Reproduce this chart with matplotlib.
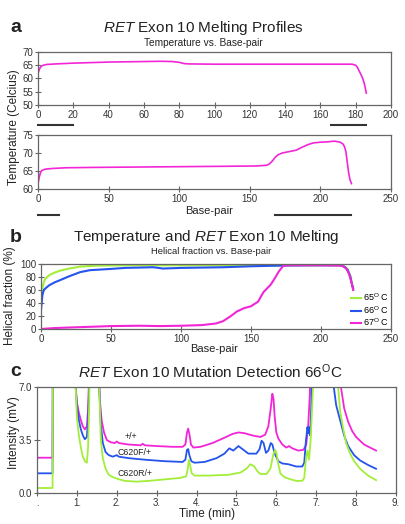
import matplotlib
matplotlib.use('Agg')
import matplotlib.pyplot as plt
import matplotlib.transforms as mtransforms

plt.rcParams['font.family'] = ['Liberation Sans', 'DejaVu Sans']
plt.rcParams['mathtext.fontset'] = 'custom'
plt.rcParams['mathtext.rm'] = 'Liberation Sans'
plt.rcParams['mathtext.it'] = 'Liberation Sans:italic'

# ---- panel a: melting profiles (temperature vs base-pair)
a1_bp = [0, 1, 2, 3, 5, 10, 20, 30, 40, 50, 60, 70, 76, 80, 83, 86, 100, 120, 140, 160,
         175, 178, 180, 181, 182, 183, 184, 185, 186]
a1_temp = [62.0, 63.8, 64.7, 65.0, 65.3, 65.5, 65.8, 66.0, 66.2, 66.3, 66.4, 66.5, 66.4, 66.1,
           65.6, 65.5, 65.4, 65.4, 65.4, 65.4, 65.4, 65.4, 65.0, 64.2, 62.8, 61.5, 60.0, 57.8, 54.5]
a1_bars = [(0, 20), (166, 186)]

a2_bp = [0, 1, 2, 3, 5, 10, 20, 40, 70, 100, 130, 155, 162, 164, 166, 168, 170, 173, 178,
         183, 187, 191, 195, 200, 205, 210, 214, 216, 217, 218, 219, 220, 221, 222]
a2_temp = [61.5, 63.5, 64.8, 65.2, 65.5, 65.7, 65.9, 66.0, 66.1, 66.2, 66.3, 66.4, 66.6, 67.0,
           67.8, 68.8, 69.5, 70.0, 70.4, 70.8, 71.6, 72.3, 72.8, 73.0, 73.1, 73.3, 73.0, 72.5,
           71.8, 70.5, 67.5, 64.5, 62.5, 61.5]
a2_bars = [(0, 15), (168, 222)]

# ---- panel b: helical fraction vs base-pair
b65_bp = [0, 1, 2, 3, 6, 10, 14, 20, 28, 40, 60, 100, 150, 200, 214, 217, 219, 221, 222, 223]
b65_h = [40, 62, 72, 77, 83, 87, 90, 93, 96, 97.5, 98, 98, 98, 98, 98, 96, 92, 82, 70, 60]
b66_bp = [0, 1, 2, 4, 6, 10, 14, 20, 28, 35, 49, 60, 80, 84, 87, 100, 130, 150, 170, 190,
          214, 217, 219, 221, 222, 223]
b66_h = [29, 52, 60, 64, 67.5, 72, 75.5, 81, 87.5, 90.5, 92.3, 94, 95, 94, 93, 94, 95, 96.5,
         97.5, 98, 98, 95.5, 91, 80, 70, 62]
b67_bp = [0, 10, 30, 50, 70, 85, 100, 115, 125, 130, 135, 140, 145, 150, 155, 159, 164, 167,
          170, 173, 176, 200, 215, 218, 220, 222, 223]
b67_h = [0, 1.5, 3, 4.5, 5, 4.5, 5, 6, 8.5, 12, 19, 27, 32, 35, 42, 57, 68, 78, 89, 97, 98,
         98, 97.5, 93, 85, 70, 60]
b_labels = [r'65$^{\mathrm{O}}$ C', r'66$^{\mathrm{O}}$ C', r'67$^{\mathrm{O}}$ C']

# ---- panel c: chromatograms at 66 C (values above 7 run off the top)
wt_t = [0, 0.39, 0.40, 0.93, 0.97, 1.0, 1.05, 1.1, 1.15, 1.2, 1.25, 1.28, 1.31, 1.32, 1.5,
        1.55, 1.58, 1.62, 1.68, 1.75, 1.85, 1.95, 2.0, 2.05, 2.3, 2.6, 2.65, 2.7, 3.0, 3.4,
        3.65, 3.72, 3.76, 3.79, 3.82, 3.86, 3.92, 4.1, 4.4, 4.7, 4.9, 5.05, 5.2, 5.4, 5.6,
        5.72, 5.8, 5.86, 5.9, 5.93, 5.96, 6.0, 6.05, 6.15, 6.25, 6.32, 6.4, 6.55, 6.68, 6.75,
        6.8, 6.84, 6.87, 7.55, 7.62, 7.7, 7.8, 7.9, 8.0, 8.2, 8.35, 8.5]
wt_mv = [2.33, 2.33, 12, 12, 7.0, 6.0, 5.3, 4.8, 4.4, 4.2, 4.4, 5.5, 8, 12, 12,
         8, 6.0, 4.8, 4.0, 3.5, 3.35, 3.3, 3.4, 3.3, 3.2, 3.15, 3.25, 3.15, 3.1, 3.05,
         3.05, 3.2, 4.0, 4.25, 3.9, 3.2, 3.0, 3.05, 3.3, 3.65, 3.9, 4.0, 3.95, 3.8, 3.7,
         3.85, 4.4, 5.6, 6.55, 6.2, 5.0, 4.0, 3.6, 3.2, 3.0, 3.1, 2.95, 2.8, 2.85, 3.2,
         4.5, 6.5, 12, 12, 7.0, 5.6, 4.7, 4.1, 3.7, 3.2, 3.0, 2.8]

f_t = [0, 0.39, 0.40, 0.93, 0.97, 1.0, 1.05, 1.1, 1.15, 1.2, 1.25, 1.28, 1.31, 1.32, 1.52,
       1.56, 1.6, 1.65, 1.72, 1.8, 1.9, 2.0, 2.05, 2.3, 2.7, 3.2, 3.65, 3.72, 3.76, 3.79, 3.82,
       3.87, 3.95, 4.2, 4.5, 4.7, 4.82, 4.92, 5.05, 5.15, 5.3, 5.5, 5.58, 5.63, 5.68, 5.74,
       5.8, 5.86, 5.9, 5.96, 6.05, 6.15, 6.3, 6.5, 6.65, 6.7, 6.74, 6.78, 6.8, 6.82, 6.85,
       6.88, 6.92, 7.4, 7.44, 7.5, 7.6, 7.7, 7.8, 7.95, 8.1, 8.3, 8.5]
f_mv = [1.3, 1.3, 12, 12, 7.0, 5.8, 4.8, 4.2, 3.8, 3.55, 3.7, 4.8, 7, 12, 12,
        7.0, 4.5, 3.3, 2.7, 2.5, 2.4, 2.5, 2.4, 2.3, 2.2, 2.1, 2.05, 2.2, 2.85, 2.9, 2.5,
        2.1, 2.0, 2.05, 2.3, 2.6, 2.95, 2.8, 3.1, 2.9, 2.6, 2.6, 2.9, 3.45, 3.3, 2.65,
        2.8, 3.3, 3.2, 2.6, 2.1, 1.95, 1.9, 1.75, 1.75, 2.0, 3.4, 4.35, 3.95, 4.35, 3.8,
        6.0, 12, 12, 7.0, 5.8, 4.8, 3.8, 3.1, 2.5, 2.15, 1.85, 1.6]

r_t = [0, 0.39, 0.40, 0.93, 0.97, 1.0, 1.05, 1.1, 1.15, 1.2, 1.25, 1.28, 1.31, 1.32, 1.52,
       1.56, 1.6, 1.65, 1.72, 1.8, 1.9, 2.0, 2.2, 2.5, 2.8, 3.2, 3.6, 3.74, 3.78, 3.81, 3.84,
       3.88, 3.95, 4.3, 4.8, 5.1, 5.25, 5.35, 5.45, 5.52, 5.6, 5.75, 5.85, 5.92, 5.97, 6.0,
       6.05, 6.1, 6.2, 6.3, 6.5, 6.65, 6.7, 6.74, 6.78, 6.82, 6.86, 6.92, 6.95, 7.5, 7.55,
       7.6, 7.68, 7.75, 7.85, 7.95, 8.1, 8.3, 8.5]
r_mv = [0.33, 0.33, 12, 12, 7, 5.0, 3.8, 3.0, 2.4, 2.1, 2.0, 3.0, 6, 12, 12,
        7, 3.5, 2.3, 1.6, 1.2, 1.05, 0.95, 0.8, 0.75, 0.8, 0.9, 1.0, 1.1, 1.6, 2.2, 1.8,
        1.3, 1.15, 1.15, 1.2, 1.35, 1.6, 1.9, 1.75, 1.45, 1.25, 1.25, 1.6, 2.5, 2.85, 2.7,
        1.9, 1.3, 1.05, 0.95, 0.8, 0.8, 1.0, 2.2, 2.8, 2.2, 3.5, 7, 12, 12, 7.0,
        5.4, 4.2, 3.3, 2.6, 2.1, 1.6, 1.15, 0.85]
c_names = ['+/+', 'C620F/+', 'C620R/+']

magenta = '#f226d6'
blue = '#2453ee'
green = '#a2ee3a'
spine_col = '#666666'
tick_col = '#333333'

fig = plt.figure(figsize=(4.05, 5.24), dpi=100)
W, H = 405.0, 524.0


def box(left, top, right, bottom):
    return [left / W, 1 - bottom / H, (right - left) / W, (bottom - top) / H]


def style(ax):
    for s in ax.spines.values():
        s.set_color(spine_col)
        s.set_linewidth(0.9)
    ax.tick_params(direction='inout', length=4, width=0.8, color=spine_col,
                   labelsize=7, labelcolor=tick_col, pad=1.5)


ax1 = fig.add_axes(box(38, 52, 391, 105))
ax1.plot(a1_bp, a1_temp, color=magenta, lw=1.2)
ax1.set_xlim(0, 200)
ax1.set_ylim(50, 70)
ax1.set_xticks(range(0, 201, 20))
ax1.set_yticks(range(50, 71, 5))
style(ax1)
tr = mtransforms.blended_transform_factory(ax1.transData, ax1.transAxes)
for x0, x1 in a1_bars:
    ax1.plot([x0, x1], [-0.38, -0.38], color='#333333', lw=1.5, transform=tr, clip_on=False)

ax2 = fig.add_axes(box(38, 135, 391, 189))
ax2.plot(a2_bp, a2_temp, color=magenta, lw=1.2)
ax2.set_xlim(0, 250)
ax2.set_ylim(60, 75)
ax2.set_xticks(range(0, 251, 50))
ax2.set_yticks(range(60, 76, 5))
style(ax2)
tr = mtransforms.blended_transform_factory(ax2.transData, ax2.transAxes)
for x0, x1 in a2_bars:
    ax2.plot([x0, x1], [-0.48, -0.48], color='#333333', lw=1.5, transform=tr, clip_on=False)

ax3 = fig.add_axes(box(41, 264, 391, 329))
h1, = ax3.plot(b65_bp, b65_h, color=green, lw=1.5)
h2, = ax3.plot(b66_bp, b66_h, color=blue, lw=1.5)
h3, = ax3.plot(b67_bp, b67_h, color=magenta, lw=1.5)
ax3.set_xlim(0, 250)
ax3.set_ylim(0, 100)
ax3.set_xticks(range(0, 251, 50))
ax3.set_yticks(range(0, 101, 20))
style(ax3)
ax3.legend([h1, h2, h3], b_labels, loc='lower right', bbox_to_anchor=(1.0, -0.02),
           frameon=False, fontsize=6.5, handlelength=1.2, handletextpad=0.2,
           labelspacing=0.12, borderpad=0.1, borderaxespad=0.1)

ax4 = fig.add_axes(box(37, 387, 396, 493))
ax4.plot(wt_t, wt_mv, color=magenta, lw=1.3)
ax4.plot(f_t, f_mv, color=blue, lw=1.3)
ax4.plot(r_t, r_mv, color=green, lw=1.3)
ax4.set_xlim(0, 9)
ax4.set_ylim(0, 7)
ax4.set_xticks(range(0, 10))
ax4.set_xticklabels(['.'] + ['%d.' % i for i in range(1, 10)])
ax4.set_yticks([0, 3.5, 7.0])
ax4.set_yticklabels(['0.0', '3.5', '7.0'])
style(ax4)
ax4.text(2.35, 3.75, c_names[0], fontsize=6.3, ha='center', va='center', color='#222222')
ax4.text(2.45, 2.7, c_names[1], fontsize=6.3, ha='center', va='center', color='#222222')
ax4.text(2.45, 1.3, c_names[2], fontsize=6.3, ha='center', va='center', color='#222222')

txt = '#222222'


def ft(x, y, s, **kw):
    fig.text(x / W, 1 - y / H, s, ha='center', va='center', color=txt, **kw)


ft(16, 28, 'a', fontsize=14, fontweight='bold')
ft(203, 28, r'$\mathit{RET}$ Exon 10 Melting Profiles', fontsize=11)
ft(203, 42.5, 'Temperature vs. Base-pair', fontsize=7.3)
ft(14, 127, 'Temperature (Celcius)', fontsize=8.5, rotation=90)
ft(209, 211.5, 'Base-pair', fontsize=8)

ft(16, 237, 'b', fontsize=14, fontweight='bold')
ft(206, 237, r'Temperature and $\mathit{RET}$ Exon 10 Melting', fontsize=11)
ft(211, 251.5, 'Helical fraction vs. Base-pair', fontsize=6.8)
ft(10, 296, 'Helical fraction (%)', fontsize=8.5, rotation=90)
ft(214, 349, 'Base-pair', fontsize=8)

ft(16, 372, 'c', fontsize=14, fontweight='bold')
ft(210, 372, r'$\mathit{RET}$ Exon 10 Mutation Detection 66$^{\mathrm{O}}$C', fontsize=11)
ft(14, 433, 'Intensity (mV)', fontsize=8.5, rotation=90)
ft(207, 514.5, 'Time (min)', fontsize=8.5)

fig.savefig('out.png', dpi=100)
